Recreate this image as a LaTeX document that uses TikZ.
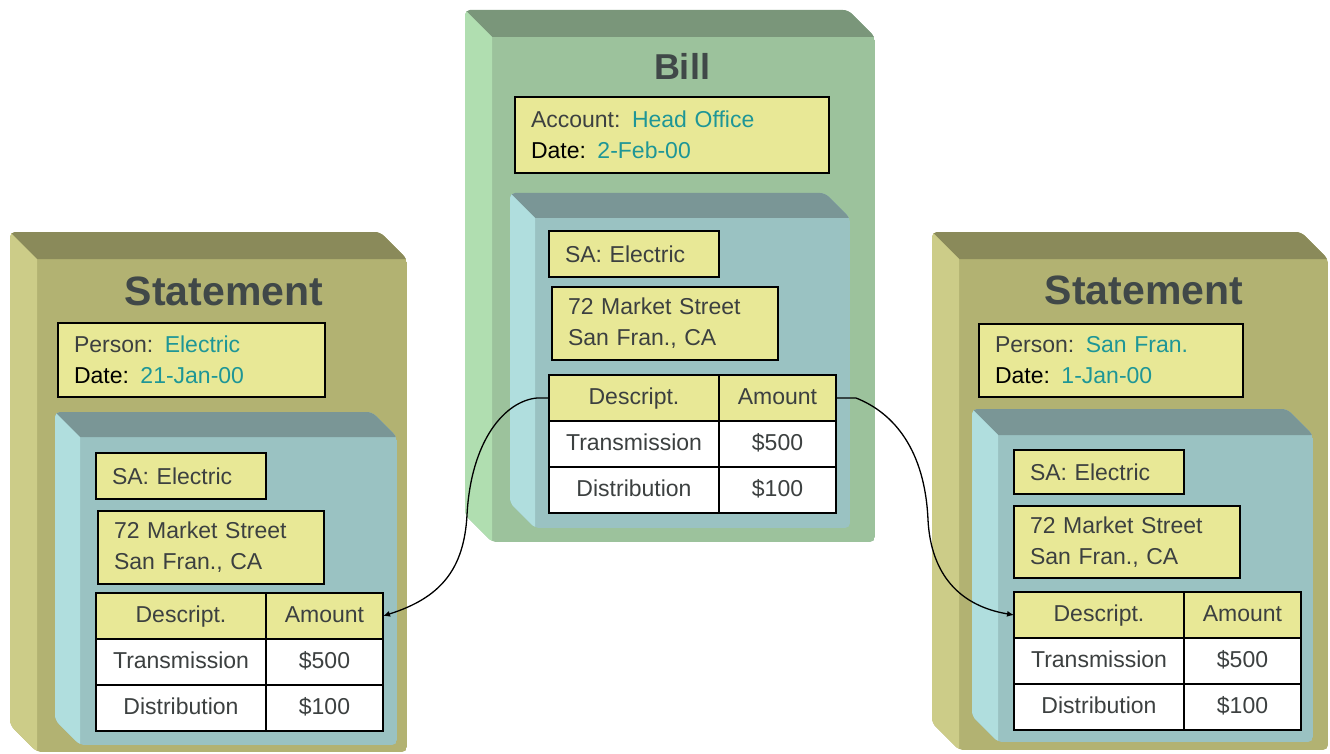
\documentclass[tikz,border=0pt]{standalone}
\usepackage{fontspec}
\setmainfont{Liberation Sans}
\usetikzlibrary{arrows.meta}

\definecolor{billfront}{HTML}{9CC29C}
\definecolor{billtop}{HTML}{7A967A}
\definecolor{billside}{HTML}{B0DEB0}
\definecolor{stmtfront}{HTML}{B2B272}
\definecolor{stmttop}{HTML}{8A8A5A}
\definecolor{stmtside}{HTML}{CCCC88}
\definecolor{safront}{HTML}{9AC2C2}
\definecolor{satop}{HTML}{7A9696}
\definecolor{saside}{HTML}{B0DEDE}
\definecolor{paleyellow}{HTML}{E8E896}
\definecolor{tealtext}{HTML}{1E9696}
\definecolor{titlegray}{HTML}{404848}
\definecolor{labelgray}{HTML}{3C4040}

\tikzset{
  boxtitle/.style={anchor=base, inner sep=0pt, text=titlegray, font=\fontsize{41}{45}\selectfont\bfseries},
  infobox/.style={draw=black, line width=2pt, fill=paleyellow, anchor=north west, align=left,
    inner xsep=16pt, inner ysep=0pt, outer sep=0pt, text=labelgray, font=\fontsize{23}{31}\selectfont},
  headcell/.style={draw=black, line width=2.5pt, fill=paleyellow, anchor=north west, inner sep=0pt,
    outer sep=0pt, minimum height=46pt, text height=17pt, text depth=5pt, text=labelgray,
    font=\fontsize{23}{27}\selectfont},
  bodycell/.style={headcell, fill=white},
  link/.style={draw=black, line width=1.3pt, -{Latex[length=7pt,width=6pt]}}
}

% 3D box: #1 x0, #2 y0, #3 x1, #4 y1, #5 depth, #6 front, #7 top, #8 side
\newcommand{\slab}[8]{%
  \begin{scope}
    \clip[rounded corners=5pt] (#1,#2) -- (#3-#5,#2) -- (#3,#2+#5) -- (#3,#4) -- (#1+#5,#4) -- (#1,#4-#5) -- cycle;
    \fill[#6] (#1,#2) rectangle (#3,#4);
    \fill[#7] (#1,#2) -- (#3-#5,#2) -- (#3,#2+#5) -- (#1+#5,#2+#5) -- cycle;
    \fill[#8] (#1,#2) -- (#1+#5,#2+#5) -- (#1+#5,#4) -- (#1,#4-#5) -- cycle;
  \end{scope}}

% table of charges: #1 name prefix, #2 x, #3 y of the top left corner
\newcommand{\chargetable}[3]{%
  \node[headcell, minimum width=170pt] (#1desc) at (#2,#3) {Descript.};
  \node[headcell, minimum width=117pt] (#1amt) at (#1desc.north east) {Amount};
  \node[bodycell, minimum width=170pt] (#1trdesc) at (#1desc.south west) {Transmission};
  \node[bodycell, minimum width=117pt] (#1tramt) at (#1trdesc.north east) {\$500};
  \node[bodycell, minimum width=170pt] (#1didesc) at (#1trdesc.south west) {Distribution};
  \node[bodycell, minimum width=117pt] (#1diamt) at (#1didesc.north east) {\$100};}

\begin{document}
\begin{tikzpicture}[x=1pt, y=-1pt]
  \useasboundingbox (0,0) rectangle (1330,754);

  % Bill
  \slab{465}{10}{875}{542}{27}{billfront}{billtop}{billside}
  \slab{510}{193}{850}{528}{25}{safront}{satop}{saside}
  \node[boxtitle, font=\fontsize{36}{40}\selectfont\bfseries] (billname) at (682,80) {Bill};
  \node[infobox, text width=282pt, minimum height=76pt] (billinfo) at (515,97)
    {Account: \textcolor{tealtext}{Head Office}\\\textcolor{black}{Date:} \textcolor{tealtext}{2-Feb-00}};
  \node[infobox, text width=138pt, minimum height=46pt] (billsa) at (549,231) {SA: Electric};
  \node[infobox, text width=194pt, minimum height=73pt] (billaddr) at (552,287)
    {72 Market Street\\San Fran., CA};
  \chargetable{bill}{549}{375}

  % Statement (left)
  \slab{10}{232}{407}{752}{27}{stmtfront}{stmttop}{stmtside}
  \slab{55}{412}{397}{745}{25}{safront}{satop}{saside}
  \node[boxtitle] (leftname) at (224,305) {Statement};
  \node[infobox, text width=235pt, minimum height=74pt] (leftinfo) at (58,323)
    {Person: \textcolor{tealtext}{Electric}\\\textcolor{black}{Date:} \textcolor{tealtext}{21-Jan-00}};
  \node[infobox, text width=138pt, minimum height=46pt] (leftsa) at (96,453) {SA: Electric};
  \node[infobox, text width=194pt, minimum height=73pt] (leftaddr) at (98,511)
    {72 Market Street\\San Fran., CA};
  \chargetable{left}{96}{593}

  % Statement (right)
  \slab{932}{232}{1328}{750}{27}{stmtfront}{stmttop}{stmtside}
  \slab{972}{409}{1313}{742}{26}{safront}{satop}{saside}
  \node[boxtitle] (rightname) at (1144,304) {Statement};
  \node[infobox, text width=232pt, minimum height=73pt] (rightinfo) at (979,324)
    {Person: \textcolor{tealtext}{San Fran.}\\\textcolor{black}{Date:} \textcolor{tealtext}{1-Jan-00}};
  \node[infobox, text width=138pt, minimum height=44pt] (rightsa) at (1014,450) {SA: Electric};
  \node[infobox, text width=194pt, minimum height=72pt] (rightaddr) at (1014,506)
    {72 Market Street\\San Fran., CA};
  \chargetable{right}{1014}{592}

  % links between the tables
  \coordinate (leftbend) at (467,515);
  \coordinate (rightbend) at (928,520);
  \draw[link] (billdesc.west) -- ++(-12,0) .. controls +(-32,3) and +(4,-75) .. (leftbend)
    .. controls +(-3,55) and +(57,-18) .. (leftamt.east);
  \draw[link] (billamt.east) -- ++(20,0) .. controls +(38,15) and +(-3,-70) .. (rightbend)
    .. controls +(3,55) and +(-54,-9) .. (rightdesc.west);
\end{tikzpicture}
\end{document}
